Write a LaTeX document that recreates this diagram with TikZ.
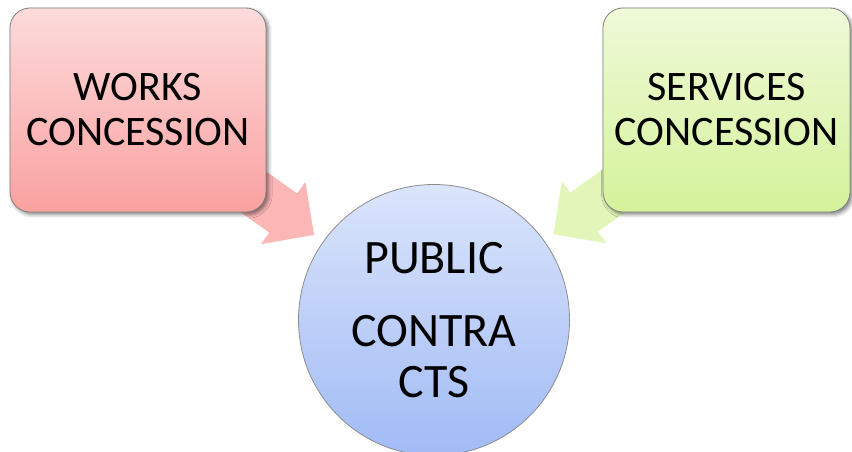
\documentclass[tikz,border=0pt]{standalone}
\usepackage{fontspec}
\setmainfont{Carlito}
\usepackage{tikz}
\usetikzlibrary{ positioning, shadows.blur, arrows.meta, calc }
\definecolor{concred}{RGB}{247,110,110}
\definecolor{concgreen}{RGB}{190,235,100}
\definecolor{concblue}{RGB}{110,150,240}

\pgfdeclarelayer{background}
\pgfsetlayers{background,main}

\begin{document}
\begin{tikzpicture}[x=0.5pt, y=0.5pt,
concbox/.style={rectangle, rounded corners=10pt, draw=black!50, thin,
top color=#1!25, bottom color=#1!65, minimum height=102pt, align=center,
font=\fontsize{21}{22.5}\selectfont,
blur shadow={shadow xshift=1.2pt, shadow yshift=-1.2pt, shadow blur steps=4, shadow opacity=50}},
pubcircle/.style={circle, draw=black!45, thin, top color=#1!25, bottom color=#1!65,
minimum size=135.5pt, inner sep=0pt, align=center,
font=\fontsize{24}{25.5}\selectfont},
bigarrow/.style={draw=#1, line width=24pt,
-{Triangle[width=37pt, length=19pt]}, shorten >=5.5pt}
]
\useasboundingbox (0,0) rectangle (852,451);

% Public contracts
\node[pubcircle=concblue] (pub) at (434,131) {PUBLIC\\[11pt]CONTRA\\CTS};

% Works concession
\node[concbox=concred, minimum width=128pt] (works) at (138,341)
{WORKS\\CONCESSION};

% Services concession
\node[concbox=concgreen, minimum width=123.5pt] (serv) at (726.5,341)
{SERVICES\\CONCESSION};

% Arrows
\begin{pgfonlayer}{background}
\draw[bigarrow=concred!50] (works.center) -- (pub);
\draw[bigarrow=concgreen!45] (serv.center) -- (pub);
\end{pgfonlayer}

\end{tikzpicture}
\end{document}
